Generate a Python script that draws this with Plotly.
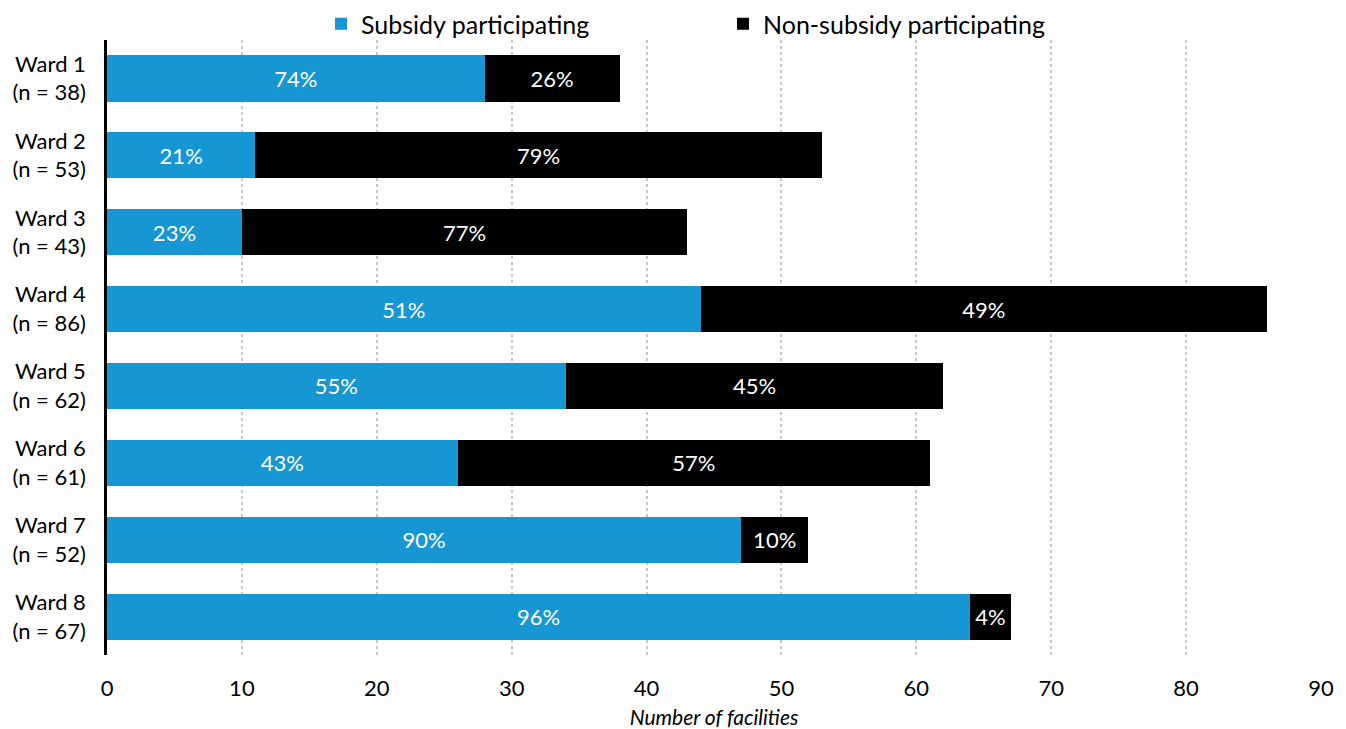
import plotly.graph_objects as go

wards = ["Ward 1", "Ward 2", "Ward 3", "Ward 4", "Ward 5", "Ward 6", "Ward 7", "Ward 8"]
subsidy = [28, 11, 10, 44, 34, 26, 47, 64]
non_subsidy = [10, 42, 33, 42, 28, 35, 5, 3]
x_ticks = [0, 10, 20, 30, 40, 50, 60, 70, 80, 90]

totals = [s + n for s, n in zip(subsidy, non_subsidy)]
labels = [f"{w}<br>(n = {t})" for w, t in zip(wards, totals)]
sub_pct = [f"{round(100 * s / t)}%" for s, t in zip(subsidy, totals)]
non_pct = [f"{round(100 * n / t)}%" for n, t in zip(non_subsidy, totals)]

FONT = "Lato"
BLUE = "#1696d2"
W, H = 1330, 721
L, R, T, B = 99, 17, 32, 74
PW, PH = W - L - R, H - T - B

fig = go.Figure()
fig.add_trace(go.Bar(
    y=labels, x=subsidy, orientation="h", name="Subsidy participating",
    marker=dict(color=BLUE, line=dict(width=0)),
    text=sub_pct, textposition="inside", insidetextanchor="middle",
    textfont=dict(color="white", size=22, family=FONT),
    constraintext="none", cliponaxis=False,
))
fig.add_trace(go.Bar(
    y=labels, x=non_subsidy, orientation="h", name="Non-subsidy participating",
    marker=dict(color="#000000", line=dict(width=0)),
    text=non_pct, textposition="inside", insidetextanchor="middle",
    textfont=dict(color="white", size=22, family=FONT),
    constraintext="none", cliponaxis=False,
))

fig.update_layout(
    barmode="stack",
    bargap=0.4,
    width=W, height=H,
    margin=dict(l=L, r=R, t=T, b=B, autoexpand=False),
    paper_bgcolor="white", plot_bgcolor="white",
    font=dict(family=FONT, size=22, color="#000000"),
    legend=dict(
        orientation="h", traceorder="normal",
        x=(313 - L) / PW, xref="paper",
        y=1.0 + (T - 16) / PH, yanchor="middle", yref="paper",
        font=dict(size=25, family=FONT),
        entrywidth=357, entrywidthmode="pixels",
        itemclick=False, itemdoubleclick=False,
        bgcolor="rgba(0,0,0,0)",
    ),
    showlegend=True,
)

fig.update_xaxes(
    range=[0, 90], tickvals=x_ticks, ticktext=[str(v) for v in x_ticks],
    showgrid=True, gridcolor="#c8c8c8", griddash="dot", gridwidth=1.5,
    zeroline=False, showline=False,
    ticks="outside", ticklen=0, ticklabelstandoff=14,
    tickfont=dict(size=22, family=FONT),
    title=dict(text="<i>Number of facilities</i>", font=dict(size=21, family=FONT), standoff=16),
)
fig.update_yaxes(
    autorange="reversed",
    showline=True, linecolor="#000000", linewidth=2.5,
    showgrid=False, ticks="outside", ticklen=0, ticklabelstandoff=14,
    tickfont=dict(size=22, family=FONT),
)

fig.write_html("out.html")
